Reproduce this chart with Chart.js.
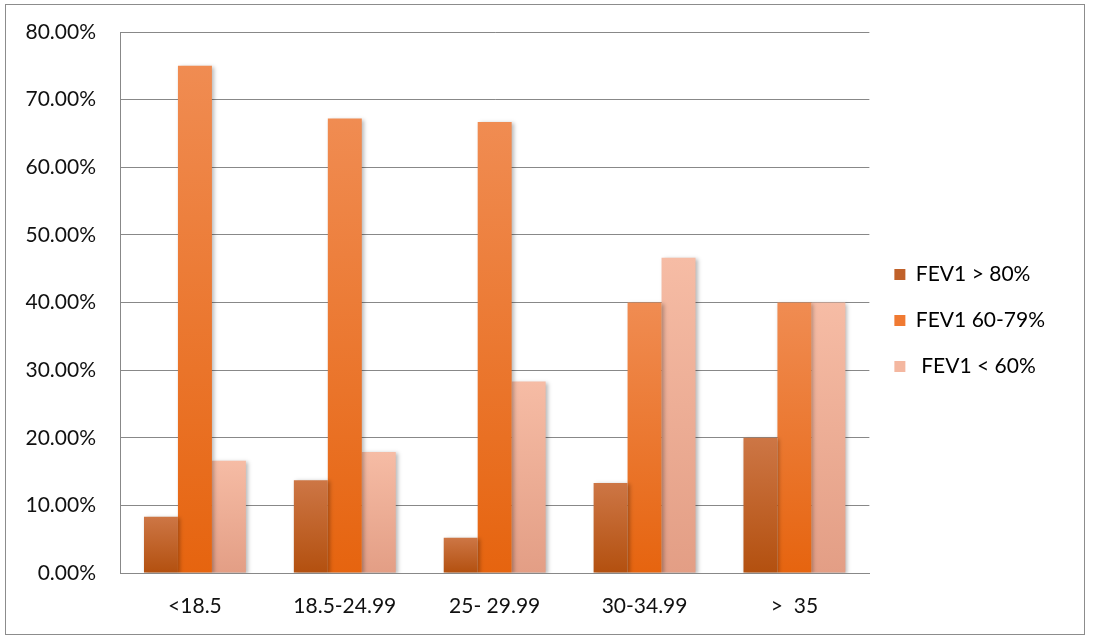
<!DOCTYPE html>
<html>
<head>
<meta charset="utf-8">
<script src="https://cdn.jsdelivr.net/npm/chart.js@4.4.0/dist/chart.umd.min.js"></script>
<style>
  html, body { margin: 0; padding: 0; background: #fff; }
  #wrap { position: relative; width: 1093px; height: 643px; }
  #frame { position: absolute; left: 5px; top: 4px; width: 1078px; height: 629px; border: 1px solid #8c8c8c; pointer-events: none; }
  canvas { position: absolute; left: 0; top: 0; }
</style>
</head>
<body>
<div id="wrap">
  <canvas id="c" width="1093" height="643"></canvas>
  <div id="frame"></div>
</div>
<script>
const categories = ['<18.5', '18.5-24.99', '25- 29.99', '30-34.99', '>  35'];
const seriesNames = ['FEV1 > 80%', 'FEV1 60-79%', ' FEV1 < 60%'];
const fevAbove80 = [8.3, 13.7, 5.2, 13.3, 20.0];
const fev60to79 = [75.0, 67.2, 66.7, 40.0, 40.0];
const fevBelow60 = [16.6, 17.9, 28.3, 46.6, 40.0];
const yTicks = [0, 10, 20, 30, 40, 50, 60, 70, 80];

const gradTop = ['#CD7645', '#F08C52', '#F6BCA5'];
const gradBottom = ['#B3500F', '#E6640F', '#E39E85'];
const legendColors = ['#C0612A', '#F07A32', '#F4B7A0'];

function barFill(i) {
  return function (c) {
    if (c.type !== 'data') return legendColors[i];
    const chart = c.chart;
    const y = chart.scales.y;
    if (!y || c.raw == null) return legendColors[i];
    const top = y.getPixelForValue(c.raw);
    const bottom = y.getPixelForValue(0);
    if (!isFinite(top) || !isFinite(bottom) || top === bottom) return legendColors[i];
    const g = chart.ctx.createLinearGradient(0, top, 0, bottom);
    g.addColorStop(0, gradTop[i]);
    g.addColorStop(1, gradBottom[i]);
    return g;
  };
}

const seriesData = [fevAbove80, fev60to79, fevBelow60];

const shadowPlugin = {
  id: 'barShadow',
  beforeDatasetsDraw(chart) {
    const ctx = chart.ctx;
    ctx.save();
    ctx.shadowColor = 'rgba(0,0,0,0.28)';
    ctx.shadowBlur = 4;
    ctx.shadowOffsetX = 2;
    ctx.shadowOffsetY = 1;
  },
  afterDatasetsDraw(chart) {
    chart.ctx.restore();
  }
};

const legendShift = {
  id: 'legendShift',
  afterLayout(chart) {
    if (chart.legend) {
      chart.legend.top -= 17;
      chart.legend.bottom -= 17;
    }
  }
};

const FONT = "'Lato', 'Open Sans', sans-serif";

new Chart(document.getElementById('c'), {
  type: 'bar',
  data: {
    labels: categories,
    datasets: seriesData.map((d, i) => ({
      label: seriesNames[i],
      data: d,
      backgroundColor: barFill(i),
      borderWidth: 0,
      categoryPercentage: 0.68,
      barPercentage: 1.0
    }))
  },
  plugins: [shadowPlugin, legendShift],
  options: {
    responsive: false,
    animation: false,
    layout: { padding: { left: 5, top: 32, right: 38, bottom: 0 } },
    plugins: {
      tooltip: { enabled: false },
      legend: {
        position: 'right',
        align: 'center',
        labels: {
          boxWidth: 11,
          boxHeight: 11,
          padding: 25,
          color: '#111',
          font: { family: FONT, size: 21 },
          generateLabels(chart) {
            return chart.data.datasets.map((ds, i) => ({
              text: ds.label,
              fillStyle: legendColors[i],
              strokeStyle: legendColors[i],
              lineWidth: 0,
              hidden: false,
              datasetIndex: i
            }));
          }
        }
      }
    },
    scales: {
      x: {
        grid: { display: false, drawTicks: false },
        border: { display: true, color: '#888', width: 1 },
        ticks: { color: '#111', font: { family: FONT, size: 21 }, padding: 21 },
        afterFit(s) { s.height = 70; }
      },
      y: {
        min: 0,
        max: 80,
        afterBuildTicks(s) { s.ticks = yTicks.map(v => ({ value: v })); },
        grid: { color: '#888', lineWidth: 1, drawTicks: false },
        border: { display: true, color: '#888', width: 1 },
        ticks: {
          color: '#111',
          font: { family: FONT, size: 21 },
          padding: 24,
          callback: v => v.toFixed(2) + '%'
        },
        afterFit(s) { s.width = 115; s.paddingTop = 0; s.paddingBottom = 0; }
      }
    }
  }
});
</script>
</body>
</html>
